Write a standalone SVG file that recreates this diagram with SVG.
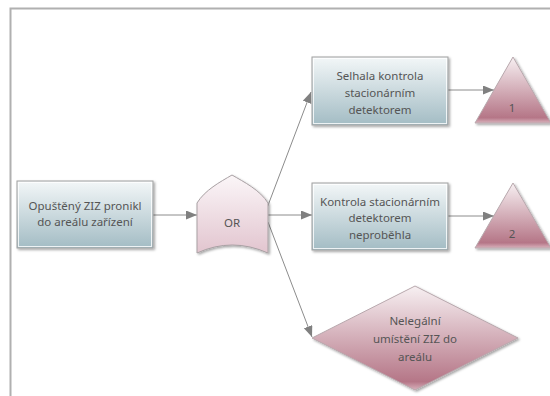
<svg xmlns="http://www.w3.org/2000/svg" width="550" height="396" viewBox="0 0 550 396">
<style>
.t{font-family:"Noto Sans","Open Sans",sans-serif;font-size:11.5px;fill:#555;text-anchor:middle}
.box{fill:url(#gb);stroke:#a0a0a0;stroke-width:1}
.inner{fill:none;stroke:#ffffff;stroke-opacity:0.8;stroke-width:1}
.pk{fill:url(#gp);stroke:#b8a8ad;stroke-width:1}
.or{fill:url(#go);stroke:#a8a0a3;stroke-width:1}
.c{fill:none;stroke:#8c8c8c;stroke-width:1;marker-end:url(#ah)}
</style>
<defs>
<linearGradient id="gb" x1="0" y1="0" x2="0" y2="1">
<stop offset="0" stop-color="#f3f7f8"/>
<stop offset="1" stop-color="#a3bcc4"/>
</linearGradient>
<linearGradient id="gp" x1="0" y1="0" x2="0" y2="1">
<stop offset="0" stop-color="#f7f0f2"/>
<stop offset="0.92" stop-color="#b57687"/>
<stop offset="1" stop-color="#d9b3bd"/>
</linearGradient>
<linearGradient id="go" x1="0" y1="0" x2="0" y2="1">
<stop offset="0" stop-color="#fbf6f8"/>
<stop offset="1" stop-color="#e2c5cf"/>
</linearGradient>
<filter id="sh" x="-10%" y="-10%" width="130%" height="130%">
<feDropShadow dx="1.5" dy="1.5" stdDeviation="1.2" flood-color="#000" flood-opacity="0.35"/>
</filter>
<marker id="ah" markerUnits="userSpaceOnUse" markerWidth="12" markerHeight="10" refX="11" refY="4.5" orient="auto">
<path d="M0,0 L11,4.5 L0,9 z" fill="#808080"/>
</marker>
</defs>
<rect width="550" height="396" fill="#ffffff"/>
<path d="M10.5,396 V8.5 H550" fill="none" stroke="#b0b0b0" stroke-width="2"/>
<g id="connectors">
<line class="c" x1="153" y1="215" x2="197" y2="215"/>
<line class="c" x1="267" y1="208" x2="311" y2="92"/>
<line class="c" x1="268" y1="215" x2="312" y2="215"/>
<line class="c" x1="268" y1="222" x2="312" y2="337"/>
<line class="c" x1="448" y1="90" x2="494" y2="90"/>
<line class="c" x1="448" y1="216" x2="494" y2="216"/>
</g>
<g id="n-opusteny">
<rect class="box" x="17" y="181" width="136" height="67" filter="url(#sh)"/>
<rect class="inner" x="18.5" y="182.5" width="133" height="64"/>
<text class="t" x="85" y="210">Opuštěný ZIZ pronikl</text>
<text class="t" x="85" y="226">do areálu zařízení</text>
</g>
<g id="n-or">
<path class="or" d="M197,203 C205,190 220,182 232,175 C244,182 260,190 268,203 L268,253 Q232,237 197,253 Z" filter="url(#sh)"/>
<text class="t" x="232" y="227">OR</text>
</g>
<g id="n-selhala">
<rect class="box" x="312" y="57" width="136" height="68" filter="url(#sh)"/>
<rect class="inner" x="313.5" y="58.5" width="133" height="65"/>
<text class="t" x="380" y="80">Selhala kontrola</text>
<text class="t" x="380" y="97">stacionárním</text>
<text class="t" x="380" y="114">detektorem</text>
</g>
<g id="n-kontrola">
<rect class="box" x="312" y="183" width="136" height="67" filter="url(#sh)"/>
<rect class="inner" x="313.5" y="184.5" width="133" height="64"/>
<text class="t" x="380" y="206">Kontrola stacionárním</text>
<text class="t" x="380" y="222">detektorem</text>
<text class="t" x="380" y="239">neproběhla</text>
</g>
<g id="n-tri1">
<path class="pk" d="M513,57 L551,123 L475,123 Z" filter="url(#sh)"/>
<text class="t" x="512" y="112">1</text>
</g>
<g id="n-tri2">
<path class="pk" d="M513,183 L551,248 L475,248 Z" filter="url(#sh)"/>
<text class="t" x="512" y="238">2</text>
</g>
<g id="n-nelegalni">
<path class="pk" d="M415,286 L518,338 L415,390 L312,338 Z" filter="url(#sh)"/>
<text class="t" x="415" y="325">Nelegální</text>
<text class="t" x="415" y="343">umístění ZIZ do</text>
<text class="t" x="415" y="361">areálu</text>
</g>
</svg>
